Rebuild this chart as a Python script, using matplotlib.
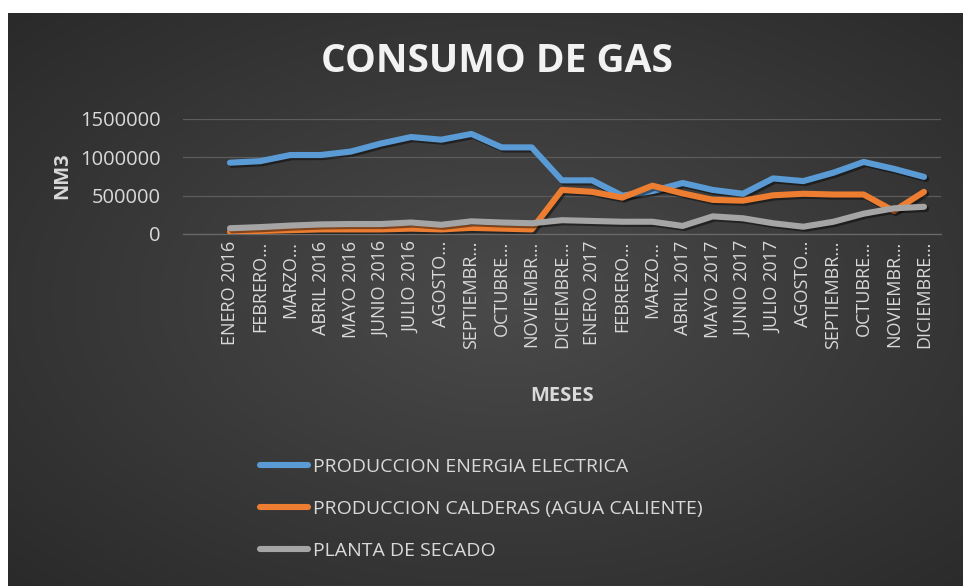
import numpy as np
import matplotlib
matplotlib.use("Agg")
import matplotlib.pyplot as plt
import matplotlib.patheffects as pe
from matplotlib.lines import Line2D

plt.rcParams["font.family"] = ["Open Sans", "DejaVu Sans"]

meses = [
    "ENERO 2016", "FEBRERO…", "MARZO…", "ABRIL 2016", "MAYO 2016", "JUNIO 2016",
    "JULIO 2016", "AGOSTO…", "SEPTIEMBR…", "OCTUBRE…", "NOVIEMBR…", "DICIEMBRE…",
    "ENERO 2017", "FEBRERO…", "MARZO…", "ABRIL 2017", "MAYO 2017", "JUNIO 2017",
    "JULIO 2017", "AGOSTO…", "SEPTIEMBR…", "OCTUBRE…", "NOVIEMBR…", "DICIEMBRE…",
]

energia_electrica = [
    930000, 950000, 1030000, 1030000, 1075000, 1180000, 1265000, 1230000,
    1305000, 1130000, 1130000, 700000, 700000, 500000, 560000, 665000,
    575000, 525000, 725000, 690000, 800000, 940000, 850000, 745000,
]
calderas = [
    30000, 40000, 50000, 60000, 60000, 60000, 70000, 60000,
    80000, 70000, 60000, 575000, 550000, 475000, 630000, 530000,
    445000, 435000, 505000, 525000, 515000, 515000, 300000, 550000,
]
planta_secado = [
    75000, 90000, 110000, 125000, 130000, 130000, 150000, 120000,
    165000, 150000, 140000, 180000, 170000, 160000, 160000, 105000,
    230000, 205000, 140000, 95000, 160000, 265000, 335000, 355000,
]

series = [
    ("PRODUCCION ENERGIA ELECTRICA", energia_electrica, "#5B9BD5"),
    ("PRODUCCION CALDERAS (AGUA CALIENTE)", calderas, "#ED7D31"),
    ("PLANTA DE SECADO", planta_secado, "#A5A5A5"),
]

W, H = 963, 586
fig = plt.figure(figsize=(W / 100, H / 100), dpi=100, facecolor="white")

# dark radial background like the Excel chart style
bg = fig.add_axes([8 / W, 0, 1 - 8 / W, 1 - 13 / H])
bg.set_axis_off()
yy, xx = np.mgrid[0:1:300j, 0:1:500j]
r = np.sqrt(((xx - 0.52) / 0.75) ** 2 + ((yy - 0.5) / 0.75) ** 2)
shade = np.clip(0.29 - 0.13 * r, 0.15, 0.30)
bg.imshow(np.dstack([shade] * 3), extent=[0, 1, 0, 1], aspect="auto", zorder=0)
bg.set_xlim(0, 1)
bg.set_ylim(0, 1)

x0, x1 = 183, 941
y_top, y_zero = 119, 234
ax = fig.add_axes([x0 / W, 1 - y_zero / H, (x1 - x0) / W, (y_zero - y_top) / H])
ax.patch.set_alpha(0)

x = np.arange(len(meses))
step = (924 - 230) / (len(meses) - 1)
ax.set_xlim(-(230 - x0) / step, len(meses) - 1 + (x1 - 924) / step)
ax.set_ylim(0, 1500000)

shadow = [pe.SimpleLineShadow(offset=(1.5, -1.5), shadow_color="black", alpha=0.45), pe.Normal()]
for name, vals, color in series:
    ax.plot(x, vals, color=color, lw=4.4, solid_capstyle="round",
            solid_joinstyle="round", path_effects=shadow, zorder=3)

ax.set_yticks([0, 500000, 1000000, 1500000])
ax.set_yticklabels(["0", "500000", "1000000", "1500000"])
ax.yaxis.grid(True, color="#5c5c5c", lw=0.9)
ax.set_axisbelow(True)
ax.set_xticks(x)
ax.set_xticklabels(meses, rotation=90, fontsize=13, color="#d9d9d9")
ax.tick_params(axis="x", length=0, pad=5)
ax.tick_params(axis="y", length=0, pad=16, labelsize=14.5, labelcolor="#d9d9d9")
for s in ["top", "right", "left"]:
    ax.spines[s].set_visible(False)
ax.spines["bottom"].set_color("#6a6a6a")
ax.spines["bottom"].set_linewidth(0.9)

fig.text(497 / W, 1 - 62 / H, "CONSUMO DE GAS", ha="center", va="center",
         fontsize=28, fontweight="bold", color="#f2f2f2")
fig.text(62 / W, 1 - 176 / H, "NM3", rotation=90, ha="center", va="center",
         fontsize=14.5, fontweight="bold", color="#d9d9d9")
fig.text(562 / W, 1 - 396 / H, "MESES", ha="center", va="center",
         fontsize=14.5, fontweight="bold", color="#d9d9d9")

handles = [Line2D([], [], color=c, lw=4.4, solid_capstyle="round") for _, _, c in series]
leg = fig.legend(handles, [n for n, _, _ in series], loc="upper left",
                 bbox_to_anchor=(242 / W, 1 - 440 / H), frameon=False,
                 fontsize=14, labelcolor="#d9d9d9", handlelength=2.5,
                 handletextpad=0.25, labelspacing=1.25)

fig.savefig("out.png", dpi=100, facecolor="white")
